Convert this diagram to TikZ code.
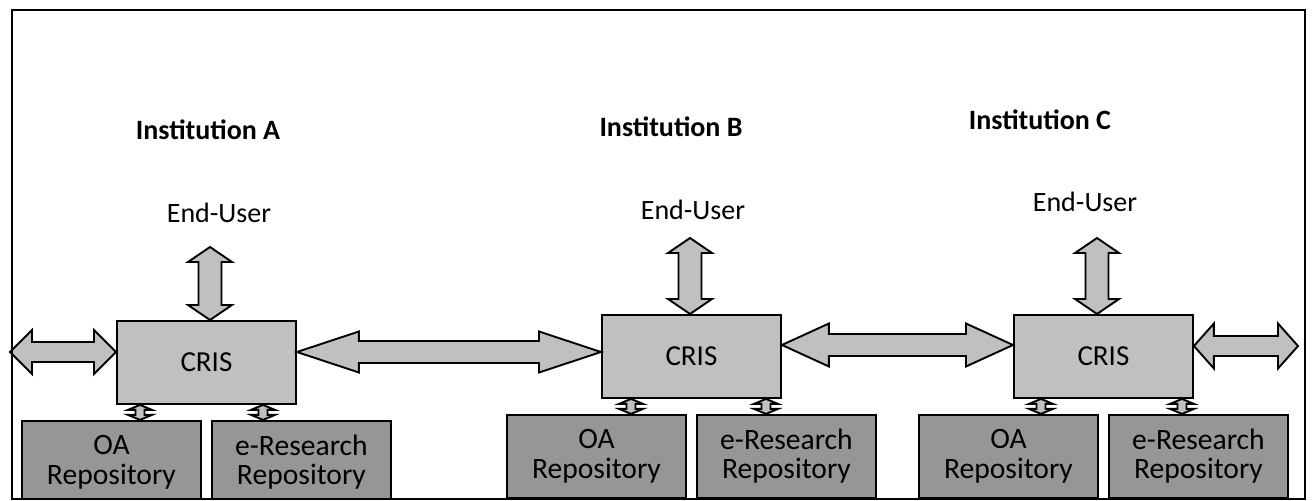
\documentclass[tikz,border=0pt]{standalone}
\usepackage{fontspec}
\setmainfont{Carlito}
\usetikzlibrary{calc}

\definecolor{crisgray}{HTML}{C0C0C0}
\definecolor{repogray}{HTML}{969696}

\tikzset{
  crisbox/.style={draw, fill=crisgray, minimum width=89.5pt, minimum height=41.5pt, inner sep=0pt, anchor=north west,
    font=\fontsize{14.5}{16}\selectfont},
  repobox/.style={draw, fill=repogray, minimum width=89.5pt, minimum height=41.5pt, inner sep=0pt, anchor=north west,
    align=center, font=\fontsize{14.8}{14.6}\selectfont},
  blockarrow/.style={draw, fill=crisgray, line join=miter},
  instlabel/.style={font=\fontsize{14}{16}\selectfont\bfseries},
  userlabel/.style={font=\fontsize{14}{16}\selectfont},
}

% double block arrow from #1 to #2: shaft half width #3, head half width #4, head length #5
\newcommand{\dblarrow}[5]{%
  \coordinate (h1) at ($(#1)!#5!(#2)$);
  \coordinate (h2) at ($(#2)!#5!(#1)$);
  \draw[blockarrow] (#1) -- ($(h1)!#4!90:(#2)$) -- ($(h1)!#3!90:(#2)$) -- ($(h2)!#3!-90:(#1)$)
    -- ($(h2)!#4!-90:(#1)$) -- (#2) -- ($(h2)!#4!90:(#1)$) -- ($(h2)!#3!90:(#1)$)
    -- ($(h1)!#3!-90:(#2)$) -- ($(h1)!#4!-90:(#2)$) -- cycle;
}

\begin{document}
\begin{tikzpicture}[x=0.5pt, y=-0.5pt, line width=0.95pt, font=\fontsize{14}{16}\selectfont]
  % page size of the original figure, in pixels (y runs downwards)
  \useasboundingbox (0,0) rectangle (1313,501);
  \fill[white] (0,0) rectangle (1313,501);
  \begin{scope}
    \clip (0,0) rectangle (1313,499);
    % one CRIS with its two repositories and its end-user link per institution
    \foreach \n/\cx/\cy/\ux/\uy/\sa/\sb in {A/116/320/210/247/140/263, B/601/314/690/238/631/766, C/1013/314/1097/238/1041/1182} {
      \node[crisbox] (cris\n) at (\cx,\cy) {CRIS};
      \node[repobox] (oa\n) at ($(cris\n.south west)+(-95,15)$) {OA\\Repository};
      \node[repobox] (er\n) at ($(cris\n.south west)+(95,15)$) {e-Research\\Repository};
      \coordinate (up\n) at (\ux,\uy);
      \coordinate (dn\n) at (cris\n.north -| up\n);
      \dblarrow{up\n}{dn\n}{5.75pt}{11pt}{7.5pt}
      \coordinate (sa\n) at (cris\n.south -| \sa,0);
      \coordinate (ta\n) at (oa\n.north -| \sa,0);
      \dblarrow{sa\n}{ta\n}{2.25pt}{6pt}{2.5pt}
      \coordinate (sb\n) at (cris\n.south -| \sb,0);
      \coordinate (tb\n) at (er\n.north -| \sb,0);
      \dblarrow{sb\n}{tb\n}{2.25pt}{6pt}{2.5pt}
    }
  \end{scope}
  % links between the institutions and beyond
  \coordinate (outA) at (10,352);
  \coordinate (inA) at (crisA.west |- outA);
  \dblarrow{outA}{inA}{5pt}{11pt}{11pt}
  \coordinate (ab1) at (crisA.east |- outA);
  \coordinate (ab2) at (crisB.west |- outA);
  \dblarrow{ab1}{ab2}{5.5pt}{10.25pt}{31pt}
  \coordinate (bc1) at (crisB.east |- 0,345);
  \coordinate (bc2) at (crisC.west |- 0,345);
  \dblarrow{bc1}{bc2}{5.5pt}{10.75pt}{23.5pt}
  \coordinate (outC) at (1298,346);
  \coordinate (inC) at (crisC.east |- outC);
  \dblarrow{inC}{outC}{5pt}{11.25pt}{10pt}
  % labels
  \node[instlabel] (instA) at (208,130) {Institution A};
  \node[instlabel] (instB) at (671,127) {Institution B};
  \node[instlabel] (instC) at (1040,120) {Institution C};
  \node[userlabel] (userA) at (219,213) {End-User};
  \node[userlabel] (userB) at (693,210) {End-User};
  \node[userlabel] (userC) at (1085,202) {End-User};
  % outer frame
  \draw[line width=1pt] (12,10) rectangle (1305,499);
\end{tikzpicture}
\end{document}
